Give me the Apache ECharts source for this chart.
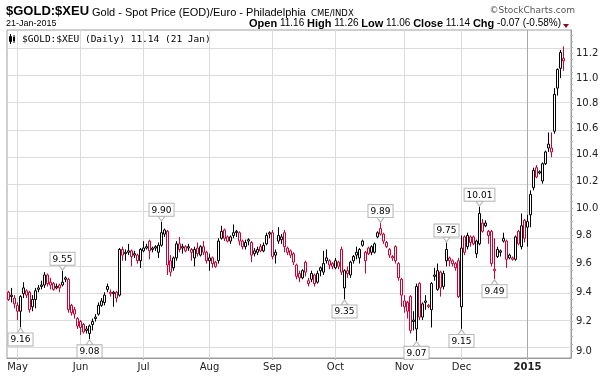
<!DOCTYPE html>
<html><head><meta charset="utf-8">
<script src="https://cdn.jsdelivr.net/npm/echarts@6/dist/echarts.min.js"></script>
<style>html,body{margin:0;padding:0;background:#fff}#c{width:608px;height:379px}</style>
</head><body><div id="c"></div>
<script>
// ---------- DATA ----------
const dates = [
'2014-04-28','2014-04-29','2014-04-30',
'2014-05-01','2014-05-02','2014-05-05','2014-05-06','2014-05-07','2014-05-08','2014-05-09','2014-05-12','2014-05-13','2014-05-14','2014-05-15','2014-05-16','2014-05-19','2014-05-20','2014-05-21','2014-05-22','2014-05-23','2014-05-27','2014-05-28','2014-05-29','2014-05-30',
'2014-06-02','2014-06-03','2014-06-04','2014-06-05','2014-06-06','2014-06-09','2014-06-10','2014-06-11','2014-06-12','2014-06-13','2014-06-16','2014-06-17','2014-06-18','2014-06-19','2014-06-20','2014-06-23','2014-06-24','2014-06-25','2014-06-26','2014-06-27','2014-06-30',
'2014-07-01','2014-07-02','2014-07-03','2014-07-07','2014-07-08','2014-07-09','2014-07-10','2014-07-11','2014-07-14','2014-07-15','2014-07-16','2014-07-17','2014-07-18','2014-07-21','2014-07-22','2014-07-23','2014-07-24','2014-07-25','2014-07-28','2014-07-29','2014-07-30','2014-07-31',
'2014-08-01','2014-08-04','2014-08-05','2014-08-06','2014-08-07','2014-08-08','2014-08-11','2014-08-12','2014-08-13','2014-08-14','2014-08-15','2014-08-18','2014-08-19','2014-08-20','2014-08-21','2014-08-22','2014-08-25','2014-08-26','2014-08-27','2014-08-28','2014-08-29',
'2014-09-02','2014-09-03','2014-09-04','2014-09-05','2014-09-08','2014-09-09','2014-09-10','2014-09-11','2014-09-12','2014-09-15','2014-09-16','2014-09-17','2014-09-18','2014-09-19','2014-09-22','2014-09-23','2014-09-24','2014-09-25','2014-09-26','2014-09-29','2014-09-30',
'2014-10-01','2014-10-02','2014-10-03','2014-10-06','2014-10-07','2014-10-08','2014-10-09','2014-10-10','2014-10-13','2014-10-14','2014-10-15','2014-10-16','2014-10-17','2014-10-20','2014-10-21','2014-10-22','2014-10-23','2014-10-24','2014-10-27','2014-10-28','2014-10-29','2014-10-30','2014-10-31',
'2014-11-03','2014-11-04','2014-11-05','2014-11-06','2014-11-07','2014-11-10','2014-11-11','2014-11-12','2014-11-13','2014-11-14','2014-11-17','2014-11-18','2014-11-19','2014-11-20','2014-11-21','2014-11-24','2014-11-25','2014-11-26','2014-11-28',
'2014-12-01','2014-12-02','2014-12-03','2014-12-04','2014-12-05','2014-12-08','2014-12-09','2014-12-10','2014-12-11','2014-12-12','2014-12-15','2014-12-16','2014-12-17','2014-12-18','2014-12-19','2014-12-22','2014-12-23','2014-12-24','2014-12-26','2014-12-29','2014-12-30','2014-12-31',
'2015-01-02','2015-01-05','2015-01-06','2015-01-07','2015-01-08','2015-01-09','2015-01-12','2015-01-13','2015-01-14','2015-01-15','2015-01-16','2015-01-20','2015-01-21'
];
const open = [
9.40,9.37,9.36,9.31,9.27,9.39,9.41,9.40,9.30,9.35,9.42,9.44,9.45,9.52,9.47,9.46,9.43,9.45,9.45,9.50,
9.49,9.31,9.28,9.22,9.20,9.18,9.14,9.12,9.20,9.22,9.25,9.31,9.33,9.42,9.40,9.39,9.40,9.38,9.70,9.67,
9.68,9.69,9.66,9.66,9.62,9.69,9.71,9.76,9.70,9.71,9.68,9.73,9.81,9.83,9.62,9.57,9.64,9.74,9.71,9.72,
9.72,9.70,9.64,9.71,9.66,9.72,9.68,9.62,9.64,9.61,9.62,9.78,9.84,9.79,9.76,9.80,9.82,9.82,9.76,9.72,
9.77,9.75,9.67,9.68,9.72,9.69,9.74,9.82,9.82,9.66,9.80,9.79,9.82,9.71,9.69,9.67,9.59,9.53,9.50,9.61,
9.46,9.49,9.52,9.47,9.57,9.54,9.64,9.62,9.60,9.57,9.61,9.70,9.43,9.55,9.52,9.62,9.66,9.64,9.76,9.62,
9.71,9.68,9.68,9.79,9.85,9.81,9.75,9.70,9.64,9.72,9.60,9.49,9.34,9.33,9.37,9.21,9.15,9.46,9.23,9.33,
9.31,9.28,9.51,9.42,9.54,9.44,9.62,9.64,9.62,9.60,9.62,9.30,9.79,9.72,9.79,9.79,9.67,9.74,9.89,9.87,
9.83,9.83,9.56,9.70,9.68,9.78,9.76,9.64,9.64,9.63,9.83,9.72,9.91,9.86,9.95,10.15,10.30,10.27,10.20,10.33,
10.48,10.45,10.58,10.92,11.08,11.16
];
const high = [
9.41,9.43,9.38,9.33,9.38,9.47,9.42,9.41,9.38,9.43,9.45,9.48,9.54,9.53,9.50,9.47,9.46,9.46,9.55,9.51,
9.50,9.32,9.30,9.23,9.21,9.19,9.17,9.18,9.22,9.25,9.33,9.36,9.40,9.46,9.42,9.41,9.41,9.71,9.72,9.70,
9.74,9.70,9.69,9.67,9.71,9.76,9.74,9.77,9.72,9.73,9.75,9.90,9.85,9.84,9.66,9.65,9.76,9.79,9.74,9.73,
9.74,9.71,9.72,9.75,9.73,9.76,9.69,9.67,9.65,9.62,9.78,9.87,9.85,9.80,9.80,9.88,9.84,9.83,9.77,9.77,
9.78,9.76,9.71,9.72,9.74,9.75,9.82,9.83,9.84,9.70,9.86,9.81,9.84,9.72,9.70,9.68,9.60,9.55,9.56,9.62,
9.50,9.55,9.53,9.55,9.58,9.69,9.70,9.63,9.61,9.64,9.62,9.72,9.56,9.58,9.62,9.66,9.72,9.71,9.77,9.69,
9.72,9.73,9.75,9.83,9.89,9.82,9.76,9.71,9.66,9.73,9.61,9.50,9.38,9.34,9.38,9.27,9.46,9.47,9.33,9.38,
9.32,9.47,9.57,9.60,9.55,9.55,9.75,9.65,9.63,9.61,9.64,9.80,9.80,9.82,9.80,9.80,9.77,10.01,9.92,9.91,
9.84,9.84,9.78,9.72,9.70,9.82,9.77,9.67,9.65,9.80,9.84,9.96,9.92,9.95,10.13,10.30,10.32,10.28,10.34,10.43,
10.57,10.57,10.92,11.08,11.23,11.26
];
const low = [
9.34,9.33,9.29,9.21,9.16,9.36,9.36,9.26,9.27,9.29,9.40,9.42,9.43,9.44,9.42,9.41,9.42,9.40,9.44,9.47,
9.26,9.24,9.22,9.15,9.11,9.12,9.12,9.08,9.14,9.20,9.24,9.30,9.31,9.40,9.37,9.30,9.33,9.37,9.62,9.62,
9.66,9.58,9.64,9.60,9.57,9.68,9.70,9.63,9.68,9.69,9.64,9.72,9.79,9.52,9.51,9.55,9.62,9.68,9.67,9.68,
9.69,9.62,9.58,9.65,9.65,9.66,9.60,9.55,9.57,9.57,9.60,9.77,9.76,9.75,9.74,9.78,9.79,9.73,9.70,9.70,
9.73,9.61,9.65,9.66,9.68,9.68,9.73,9.78,9.63,9.60,9.74,9.74,9.68,9.66,9.64,9.59,9.49,9.47,9.49,9.51,
9.44,9.47,9.44,9.46,9.51,9.52,9.60,9.56,9.56,9.56,9.56,9.52,9.35,9.50,9.50,9.60,9.63,9.60,9.72,9.53,
9.66,9.66,9.67,9.78,9.80,9.74,9.71,9.64,9.62,9.60,9.48,9.30,9.26,9.22,9.12,9.14,9.07,9.21,9.21,9.28,
9.29,9.16,9.48,9.41,9.37,9.42,9.58,9.58,9.58,9.55,9.36,9.15,9.66,9.70,9.72,9.73,9.64,9.73,9.82,9.86,
9.74,9.58,9.49,9.64,9.65,9.75,9.57,9.63,9.62,9.62,9.73,9.70,9.75,9.72,9.86,10.13,10.22,10.25,10.18,10.32,
10.42,10.38,10.56,10.86,11.00,11.06
];
const close = [
9.35,9.38,9.32,9.27,9.37,9.43,9.38,9.28,9.35,9.41,9.43,9.45,9.52,9.46,9.45,9.42,9.44,9.43,9.47,9.49,
9.28,9.26,9.25,9.17,9.16,9.13,9.15,9.17,9.18,9.23,9.31,9.34,9.38,9.44,9.39,9.40,9.36,9.70,9.66,9.68,
9.69,9.65,9.67,9.62,9.70,9.71,9.72,9.69,9.71,9.72,9.73,9.82,9.84,9.59,9.54,9.64,9.74,9.70,9.72,9.69,
9.71,9.68,9.70,9.67,9.72,9.68,9.62,9.64,9.60,9.58,9.76,9.83,9.78,9.76,9.79,9.82,9.83,9.76,9.72,9.75,
9.76,9.66,9.69,9.70,9.69,9.73,9.80,9.81,9.65,9.68,9.76,9.77,9.72,9.68,9.66,9.61,9.51,9.50,9.55,9.54,
9.48,9.53,9.46,9.53,9.55,9.60,9.62,9.59,9.58,9.62,9.58,9.54,9.55,9.53,9.61,9.65,9.68,9.70,9.73,9.68,
9.67,9.72,9.74,9.82,9.81,9.76,9.72,9.66,9.65,9.62,9.50,9.38,9.30,9.27,9.14,9.20,9.44,9.23,9.32,9.34,
9.30,9.46,9.52,9.55,9.43,9.53,9.70,9.62,9.60,9.57,9.37,9.71,9.68,9.80,9.75,9.74,9.76,9.96,9.83,9.89,
9.80,9.60,9.55,9.65,9.69,9.76,9.63,9.66,9.63,9.79,9.74,9.87,9.78,9.90,10.10,10.28,10.23,10.26,10.33,10.42,
10.45,10.42,10.87,11.07,11.21,11.14
];
const prevCloseBefore = 9.41;           // close of the session before the first one shown
const yTickLabels = [9.0, 9.2, 9.4, 9.6, 9.8, 10.0, 10.2, 10.4, 10.6, 10.8, 11.0, 11.2];
const monthNames = {'01':'2015','05':'May','06':'Jun','07':'Jul','08':'Aug','09':'Sep','10':'Oct','11':'Nov','12':'Dec'};
// [index, value, side]
const annotations = [
 [4, 9.16, 'low'], [18, 9.55, 'high'], [27, 9.08, 'low'], [51, 9.90, 'high'],
 [112, 9.35, 'low'], [124, 9.89, 'high'], [136, 9.07, 'low'], [146, 9.75, 'high'],
 [151, 9.15, 'low'], [157, 10.01, 'high'], [162, 9.49, 'low']
];

// ---------- BUILD ----------
const RED = '#cc0033', BLK = '#000000', GRID = '#dcdcdc';
const cats = dates.concat(['', '']);
const monthStarts = [];
dates.forEach((d, i) => { if (i > 0 && d.slice(0, 7) !== dates[i - 1].slice(0, 7)) monthStarts.push(i); });

const candleData = dates.map((d, i) => {
  const pc = i === 0 ? prevCloseBefore : close[i - 1];
  const stroke = close[i] < pc ? RED : BLK;
  return {
    value: [Math.log(open[i]), Math.log(close[i]), Math.log(low[i]), Math.log(high[i])],
    itemStyle: { color: '#ffffff', color0: stroke, borderColor: stroke, borderColor0: stroke, borderWidth: 1 }
  };
});

const minorTicks = [];
for (let k = 180; k <= 228; k++) minorTicks.push(Math.log(k * 0.05));

const gridLines = yTickLabels.map(v => ({ yAxis: Math.log(v) }))
  .concat(monthStarts.map(i => ({
    xAxis: i,
    lineStyle: { color: dates[i].slice(5, 7) === '01' ? '#a8a8a8' : GRID, width: 1, type: 'solid' }
  })));

const chart = echarts.init(document.getElementById('c'), null, { renderer: 'canvas' });
chart.setOption({
  animation: false,
  backgroundColor: '#ffffff',
  grid: { left: 7, right: 37, top: 30, bottom: 21, show: true, borderColor: '#a0a0a0', borderWidth: 1 },
  xAxis: {
    type: 'category', data: cats, boundaryGap: true,
    axisLine: { lineStyle: { color: '#9a9a9a' } },
    axisTick: { show: true, length: 2, alignWithLabel: true, lineStyle: { color: '#b0b0b0' } },
    splitLine: { show: false },
    axisLabel: {
      interval: (i) => monthStarts.indexOf(i) >= 0,
      margin: 4,
      fontFamily: 'DejaVu Sans', fontSize: 10, color: '#222',
      formatter: (v) => { const m = v.slice(5, 7); return m === '01' ? '{b|' + monthNames[m] + '}' : monthNames[m]; },
      rich: { b: { fontFamily: 'DejaVu Sans', fontWeight: 'bold', fontSize: 10, color: '#222' } }
    }
  },
  yAxis: {
    type: 'value', position: 'right', scale: true,
    min: Math.log(8.957), max: Math.log(11.396),
    axisLine: { show: true, lineStyle: { color: '#9a9a9a' } },
    axisTick: { show: true, length: 2, customValues: minorTicks, lineStyle: { color: '#b0b0b0' } },
    splitLine: { show: false },
    axisLabel: {
      customValues: yTickLabels.map(v => Math.log(v)),
      margin: 5, fontFamily: 'DejaVu Sans', fontSize: 10, color: '#222',
      formatter: (v) => Math.exp(v).toFixed(1)
    }
  },
  series: [{
    type: 'candlestick',
    data: candleData,
    barWidth: 2,
    markLine: {
      z: 1, silent: true, symbol: 'none', animation: false,
      label: { show: false },
      lineStyle: { color: GRID, width: 1, type: 'solid' },
      data: gridLines
    },
    markPoint: {
      z: 6, silent: true, animation: false,
      symbol: 'path://M0,0L8,0L4,6Z',
      symbolSize: [7, 5],
      itemStyle: { color: '#ffffff', borderColor: '#b4b4b4', borderWidth: 1 },
      label: {
        show: true, formatter: '{b}', fontFamily: 'DejaVu Sans', fontSize: 9, color: '#000',
        backgroundColor: '#ffffff', borderColor: '#b4b4b4', borderWidth: 1, padding: [2, 2, 1, 2]
      },
      data: annotations.map(a => ({
        name: a[1].toFixed(2),
        coord: [a[0], Math.log(a[1])],
        symbolRotate: a[2] === 'high' ? 0 : 180,
        symbolOffset: [0, a[2] === 'high' ? -3 : 3],
        label: { position: a[2] === 'high' ? 'top' : 'bottom', distance: 0 }
      }))
    }
  }],
  graphic: [
    { type: 'text', left: 6, top: 5, style: { text: '$GOLD:$XEU', font: 'bold 13px "Liberation Sans", Arial', fill: '#000' } },
    { type: 'text', left: 92, top: 7, style: { text: 'Gold - Spot Price (EOD)/Euro - Philadelphia', font: '11px "Liberation Sans", Arial', fill: '#000' } },
    { type: 'text', left: 311, top: 9, style: { text: 'CME/INDX', font: '8.5px "DejaVu Sans"', fill: '#000' } },
    { type: 'text', right: 33, top: 6, style: { text: '\u00a9StockCharts.com', font: '9px "DejaVu Sans"', fill: '#555' } },
    { type: 'text', left: 6, top: 19, style: { text: '21-Jan-2015', font: '9px "Liberation Sans", Arial', fill: '#000' } },
    { type: 'text', right: 47, top: 18, style: {
        text: '{l|Open} {n|11.16} {l|High} {n|11.26} {l|Low} {n|11.06} {l|Close} {n|11.14} {l|Chg} {n|-0.07 (-0.58%)}',
        rich: { l: { font: 'bold 11px "Liberation Sans", Arial', fill: '#000' }, n: { font: '10px "Liberation Sans", Arial', fill: '#000' } },
        font: '10px "Liberation Sans", Arial'
      } },
    { type: 'polygon', shape: { points: [[563, 24], [569, 24], [566, 28]] }, style: { fill: '#8b0a2a' } },
    { type: 'text', left: 22, top: 35, style: { text: '$GOLD:$XEU (Daily) 11.14 (21 Jan)', font: '9.5px "DejaVu Sans Mono"', fill: '#000' } },
    { type: 'rect', shape: { x: 9.5, y: 36.5, width: 2, height: 5 }, style: { fill: '#fff', stroke: '#000', lineWidth: 1 } },
    { type: 'line', shape: { x1: 10.5, y1: 34, x2: 10.5, y2: 44 }, style: { stroke: '#000', lineWidth: 1 } },
    { type: 'rect', shape: { x: 13, y: 37, width: 2, height: 4 }, style: { fill: '#000' } },
    { type: 'line', shape: { x1: 14, y1: 35, x2: 14, y2: 43 }, style: { stroke: '#000', lineWidth: 1 } }
  ]
});
</script>
</body></html>
